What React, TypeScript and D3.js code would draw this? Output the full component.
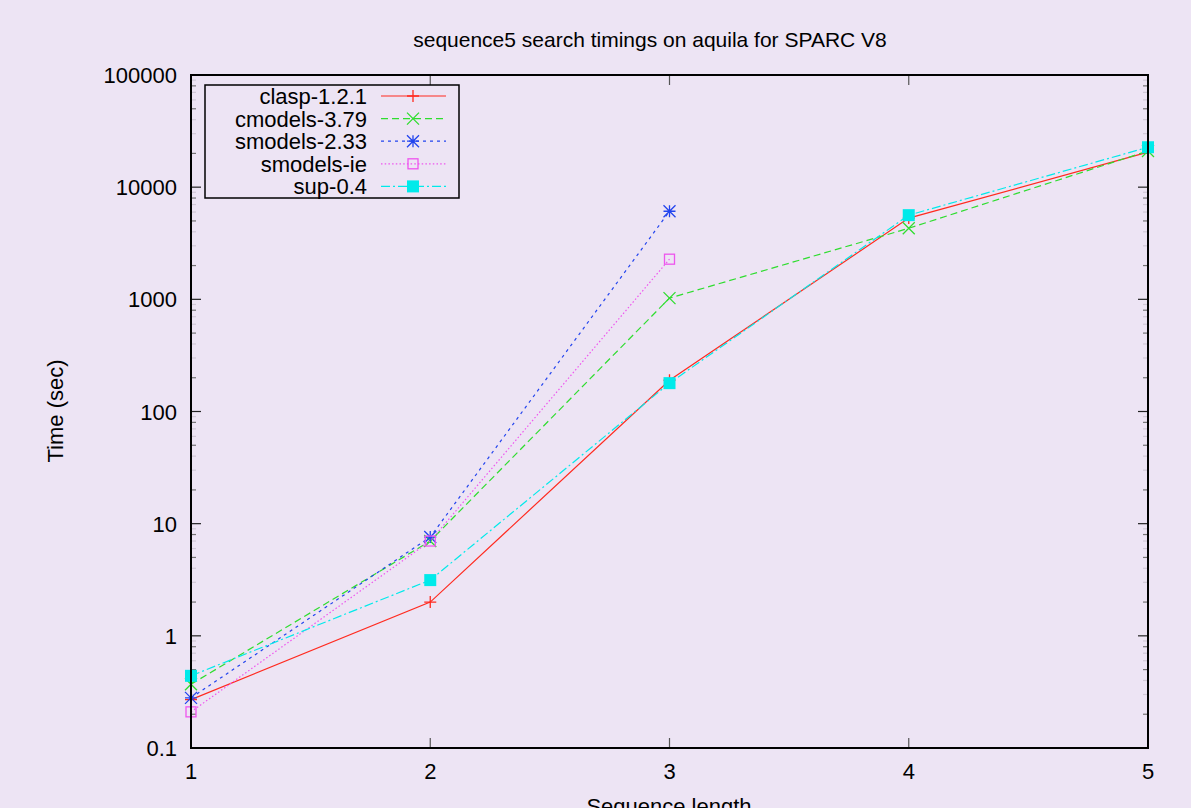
import React from "react";
import * as d3 from "d3";

const sequenceLengths = [1, 2, 3, 4, 5];
const claspTimes = [0.27, 2.0, 190, 5300, 20500];
const cmodelsTimes = [0.37, 7.0, 1025, 4300, 21000];
const smodels233Times = [0.28, 7.6, 6100];
const smodelsIeTimes = [0.21, 7.0, 2280];
const supTimes = [0.44, 3.14, 179, 5630, 22700];

const xTicks = [1, 2, 3, 4, 5];
const yTicks = [0.1, 1, 10, 100, 1000, 10000, 100000];
const yTickLabels = ["0.1", "1", "10", "100", "1000", "10000", "100000"];
const minorMults = [2, 3, 4, 5, 6, 7, 8, 9];

type Marker = "plus" | "cross" | "star" | "square" | "filled";
interface Series {
  name: string;
  values: number[];
  color: string;
  dash: string;
  marker: Marker;
}

const series: Series[] = [
  { name: "clasp-1.2.1", values: claspTimes, color: "#ff2a1f", dash: "none", marker: "plus" },
  { name: "cmodels-3.79", values: cmodelsTimes, color: "#2fdd2f", dash: "7,4", marker: "cross" },
  { name: "smodels-2.33", values: smodels233Times, color: "#2244ee", dash: "3,4", marker: "star" },
  { name: "smodels-ie", values: smodelsIeTimes, color: "#ee55ee", dash: "1.5,2.2", marker: "square" },
  { name: "sup-0.4", values: supTimes, color: "#00eaea", dash: "9,3,2,3", marker: "filled" },
];

const W = 1191;
const H = 808;
const left = 191;
const right = 1148;
const top = 75;
const bottom = 748;
const FONT = "'Liberation Sans', Arial, Helvetica, sans-serif";

function MarkerShape({ type, x, y, color }: { type: Marker; x: number; y: number; color: string }) {
  const s = 6;
  if (type === "plus") {
    return <path d={`M${x - s},${y}H${x + s}M${x},${y - s}V${y + s}`} stroke={color} strokeWidth={1.3} fill="none" />;
  }
  if (type === "cross") {
    return (
      <path d={`M${x - s},${y - s}L${x + s},${y + s}M${x - s},${y + s}L${x + s},${y - s}`} stroke={color} strokeWidth={1.3} fill="none" />
    );
  }
  if (type === "star") {
    return (
      <path
        d={`M${x - s},${y}H${x + s}M${x},${y - s}V${y + s}M${x - s},${y - s}L${x + s},${y + s}M${x - s},${y + s}L${x + s},${y - s}`}
        stroke={color}
        strokeWidth={1.3}
        fill="none"
      />
    );
  }
  if (type === "square") {
    return <rect x={x - 5} y={y - 5} width={10} height={10} stroke={color} strokeWidth={1.3} fill="none" />;
  }
  return <rect x={x - 6} y={y - 6} width={12} height={12} fill={color} />;
}

export default function App() {
  const x = d3.scaleLinear().domain([1, 5]).range([left, right]);
  const y = d3.scaleLog().domain([0.1, 100000]).range([bottom, top]);

  const line = d3
    .line<[number, number]>()
    .x((d) => x(d[0]))
    .y((d) => y(d[1]));

  const minorTicks: { v: number; m: number }[] = [];
  yTicks.slice(0, -1).forEach((t) => {
    minorMults.forEach((m) => minorTicks.push({ v: t * m, m }));
  });

  const legendRowY = (i: number) => 96 + i * 22.6;

  return (
    <svg width={W} height={H} style={{ position: "absolute", left: 0, top: 0 }} fontFamily={FONT}>
      <rect x={0} y={0} width={W} height={H} fill="#ede4f4" />

      {/* title */}
      <text x={650} y={47} fontSize={21} textAnchor="middle" fill="#000">
        sequence5 search timings on aquila for SPARC V8
      </text>

      {/* minor ticks */}
      {minorTicks.map((t, i) => {
        const yy = y(t.v);
        const strong = t.m === 2 || t.m === 5 || t.m === 8;
        const col = strong ? "#666" : "#000";
        const op = strong ? 0.9 : 0.12;
        return (
          <g key={"mn" + i} stroke={col} strokeOpacity={op} strokeWidth={1.2}>
            <line x1={left} x2={left + 5} y1={yy} y2={yy} />
            <line x1={right - 5} x2={right} y1={yy} y2={yy} />
          </g>
        );
      })}

      {/* major y ticks */}
      {yTicks.map((t, i) => (
        <g key={"yt" + i}>
          <line x1={left} x2={left + 10} y1={y(t)} y2={y(t)} stroke="#222" strokeWidth={1.2} />
          <line x1={right - 10} x2={right} y1={y(t)} y2={y(t)} stroke="#222" strokeWidth={1.2} />
          <text x={177} y={y(t) + 8} fontSize={22} textAnchor="end" fill="#000">
            {yTickLabels[i]}
          </text>
        </g>
      ))}

      {/* x ticks */}
      {xTicks.map((t) => (
        <g key={"xt" + t}>
          <line x1={x(t)} x2={x(t)} y1={bottom} y2={bottom - 10} stroke="#555" strokeWidth={1.2} />
          <line x1={x(t)} x2={x(t)} y1={top} y2={top + 10} stroke="#555" strokeWidth={1.2} />
          <text x={x(t)} y={bottom + 31} fontSize={22} textAnchor="middle" fill="#000">
            {t}
          </text>
        </g>
      ))}

      {/* axis labels */}
      <text x={669} y={814} fontSize={22} textAnchor="middle" fill="#000">
        Sequence length
      </text>
      <text transform={`translate(63,411) rotate(-90)`} fontSize={22} textAnchor="middle" fill="#000">
        Time (sec)
      </text>

      {/* series */}
      {series.map((s) => {
        const pts = s.values.map((v, i) => [sequenceLengths[i], v] as [number, number]);
        return (
          <g key={s.name}>
            <path d={line(pts) || ""} fill="none" stroke={s.color} strokeWidth={1.2} strokeDasharray={s.dash} />
            {pts.map((p, i) => (
              <MarkerShape key={i} type={s.marker} x={x(p[0])} y={y(p[1])} color={s.color} />
            ))}
          </g>
        );
      })}

      {/* legend */}
      <rect x={205} y={85} width={254} height={113} fill="none" stroke="#000" strokeWidth={1.5} />
      {series.map((s, i) => {
        const ly = legendRowY(i);
        return (
          <g key={"lg" + s.name}>
            <text x={367} y={ly + 8} fontSize={22} textAnchor="end" fill="#000">
              {s.name}
            </text>
            <line x1={381} x2={446} y1={ly} y2={ly} stroke={s.color} strokeWidth={1.2} strokeDasharray={s.dash} />
            <MarkerShape type={s.marker} x={413} y={ly} color={s.color} />
          </g>
        );
      })}

      {/* plot border */}
      <rect x={left} y={top} width={right - left} height={bottom - top} fill="none" stroke="#000" strokeWidth={2} />
    </svg>
  );
}
